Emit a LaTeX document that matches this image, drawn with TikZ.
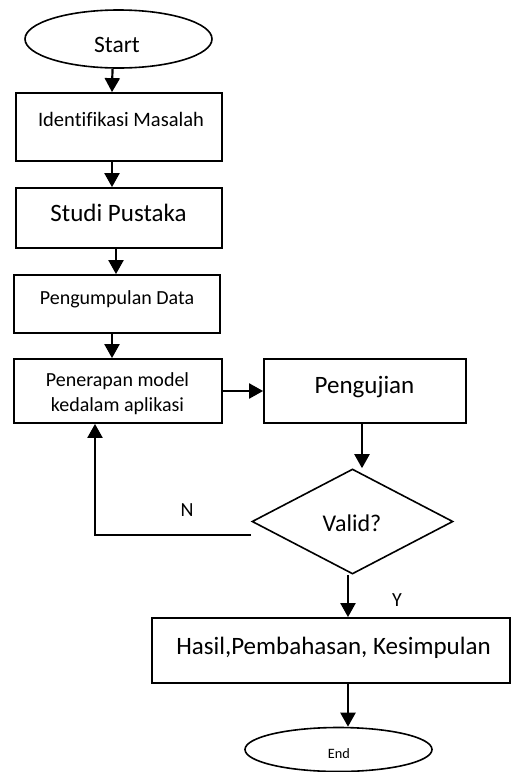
\documentclass[tikz,border=0pt]{standalone}
\usepackage{fontspec}
\setmainfont[Ligatures=NoCommon]{Carlito}
\usetikzlibrary{shapes.geometric,arrows.meta}
\tikzset{
  box/.style={draw,line width=1.8pt,rectangle,inner sep=0pt},
  oval/.style={draw,line width=1.6pt,ellipse,inner sep=0pt},
  decision/.style={draw,line width=1.6pt,diamond,inner sep=0pt},
  txt/.style={inner sep=0pt,align=center},
  arr/.style={line width=2.2pt,-{Triangle[width=15pt,length=14pt]}},
}
\begin{document}
\begin{tikzpicture}[x=1pt,y=-1pt]
\useasboundingbox (0,0) rectangle (511,772);
% shapes
\node[oval,minimum width=187pt,minimum height=58pt] (start) at (118.5,39) {};
\node[box,minimum width=206pt,minimum height=68pt] (b1) at (119,127) {};
\node[box,minimum width=206pt,minimum height=60pt] (b2) at (119,218) {};
\node[box,minimum width=206pt,minimum height=58pt] (b3) at (117,304) {};
\node[box,minimum width=208pt,minimum height=64pt] (b4) at (118,391) {};
\node[box,minimum width=202pt,minimum height=64pt] (b5) at (365,391) {};
\node[decision,minimum width=201pt,minimum height=105pt] (dia) at (352.5,521.5) {};
\node[box,minimum width=358pt,minimum height=65pt] (b6) at (331,650.5) {};
\node[oval,minimum width=187pt,minimum height=44pt] (end) at (338.5,749.5) {};
% texts
\node[txt,font=\fontsize{23.5}{28}\selectfont] (tstart) at (117,44.5) {Start};
\node[txt,font=\fontsize{20.5}{25}\selectfont] (t1) at (121,119) {Identifikasi Masalah};
\node[txt,font=\fontsize{25}{30}\selectfont] (t2) at (118.5,213) {Studi Pustaka};
\node[txt,font=\fontsize{20}{25}\selectfont] (t3) at (117,299) {Pengumpulan Data};
\node[txt,font=\fontsize{20}{25}\selectfont] (t4) at (117.5,394) {Penerapan model\\kedalam aplikasi};
\node[txt,font=\fontsize{25}{30}\selectfont] (t5) at (364.5,387) {Pengujian};
\node[txt,font=\fontsize{24}{29}\selectfont] (tdia) at (352,523) {Valid?};
\node[txt,font=\fontsize{25}{30}\selectfont] (t6) at (333.5,648) {Hasil,Pembahasan, Kesimpulan};
\node[txt,font=\fontsize{14.3}{17}\selectfont] (tend) at (339,754) {End};
\node[txt,font=\fontsize{20}{24}\selectfont] (lN) at (187,510) {N};
\node[txt,font=\fontsize{20}{24}\selectfont] (lY) at (397,600) {Y};
% connectors
\draw[arr] ([xshift=-6pt]start.south) -- ([xshift=-7pt]b1.north);
\draw[arr] ([xshift=-7pt]b1.south) -- ([xshift=-7pt]b2.north);
\draw[arr] ([xshift=-3pt]b2.south) -- ([xshift=-1pt]b3.north);
\draw[arr] ([xshift=-5pt]b3.south) -- ([xshift=-6pt]b4.north);
\draw[arr] (b4.east) -- (b5.west);
\draw[arr] ([xshift=-3pt]b5.south) -- ([xshift=-3pt]b5.south |- dia.north);
\coordinate (nstart) at ([yshift=-13.5pt]dia.west);
\draw[arr] (nstart) -| ([xshift=-23pt]b4.south);
\draw[arr] ([xshift=-4.5pt]dia.south) -- ([xshift=-4.5pt]dia.south |- b6.north);
\draw[arr] ([xshift=17pt]b6.south) -- ([xshift=17pt]b6.south |- end.north);
\end{tikzpicture}
\end{document}
